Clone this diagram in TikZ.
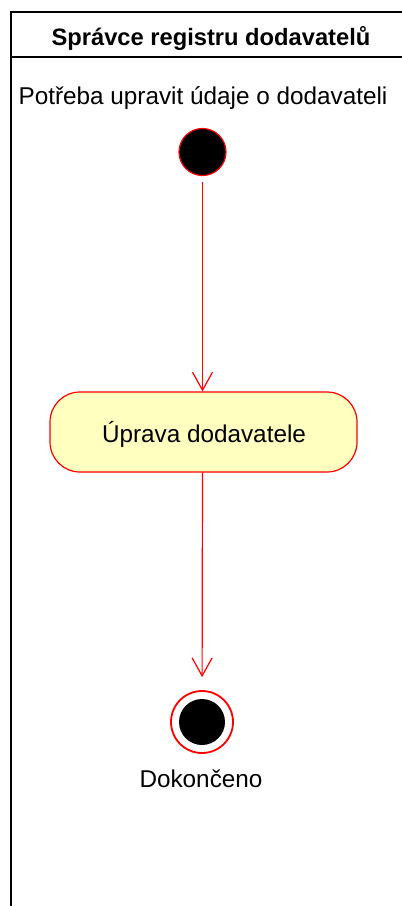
\documentclass[tikz,border=0pt]{standalone}
\usepackage{fontspec}
\setmainfont{Liberation Sans}
\usetikzlibrary{arrows.meta}
\definecolor{actfill}{HTML}{FFFFC0}
\definecolor{uired}{HTML}{FF0000}
\tikzset{
  lane/.style={draw=black, line width=1.5pt},
  lbl/.style={anchor=base, inner sep=0pt, font=\fontsize{24.3}{27}\selectfont},
  hdr/.style={lbl, font=\fontsize{23.7}{26}\selectfont\bfseries},
  initst/.style={circle, draw=uired, fill=black, line width=1.2pt, minimum size=47pt, inner sep=0pt},
  actbox/.style={draw=uired, fill=actfill, line width=1.2pt, rounded corners=30pt, minimum width=307pt, minimum height=80pt, inner sep=0pt},
  finring/.style={circle, draw=uired, fill=white, line width=1.8pt, minimum size=62pt, inner sep=0pt},
  findot/.style={circle, fill=black, minimum size=46pt, inner sep=0pt},
  flow/.style={draw=uired, line width=1.2pt, -{Straight Barb[length=18pt,width=20pt,line width=1.2pt]}}
}
\begin{document}
\begin{tikzpicture}[x=1pt,y=-1pt]
\useasboundingbox (0,0) rectangle (402,906);
% swimlane frame
\draw[lane] (402,12) -- (11,12) -- (11,906);
\draw[lane, line width=1.2pt] (11,57) -- (402,57);
\node[hdr] (title) at (211,45) {Správce registru dodavatelů};
% start
\node[lbl] (startlbl) at (203,104) {Potřeba upravit údaje o dodavateli};
\node[initst] (init) at (202.5,152) {};
% activity
\node[actbox] (act) at (203.5,432) {};
\node[lbl] (acttext) at (204,442) {Úprava dodavatele};
% final
\node[finring] (fin) at (202,722) {};
\node[findot] (findot) at (202,722) {};
\node[lbl] (finlbl) at (201,787) {Dokončeno};
% connectors
\draw[flow, shorten <=6pt] (init) -- (act.north -| init);
\draw[flow, shorten >=13pt] (act.south -| init) -- (fin);
\end{tikzpicture}
\end{document}
